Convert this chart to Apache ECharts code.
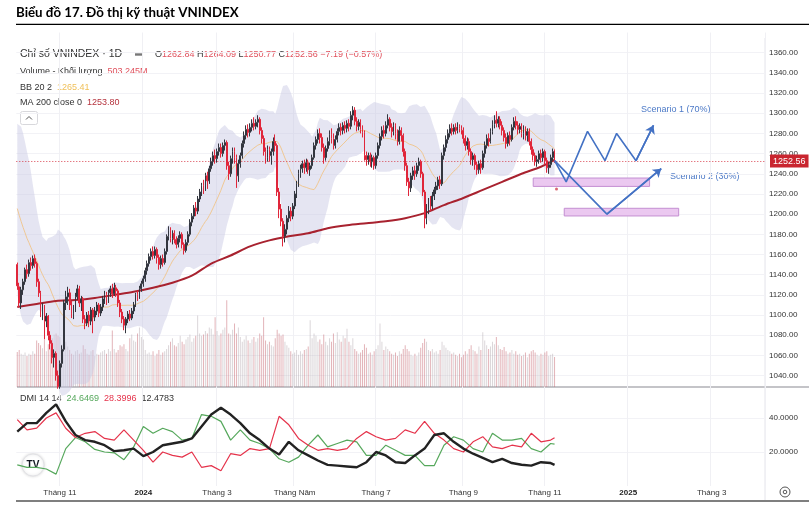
<!DOCTYPE html>
<html>
<head>
<meta charset="utf-8">
<script src="https://cdn.jsdelivr.net/npm/echarts@6/dist/echarts.min.js"></script>
<style>
html,body{margin:0;padding:0;background:#fff;}
#chart{width:809px;height:508px;}
</style>
</head>
<body>
<div id="chart"></div>
<script>
// phiên giao dịch: bắt đầu 2023-10-02, bỏ cuối tuần và ngày nghỉ lễ
var firstDay = [2023, 9, 2];
var holidays = ['2024-01-01','2024-02-08','2024-02-09','2024-02-12','2024-02-13','2024-02-14',
  '2024-04-18','2024-04-29','2024-04-30','2024-05-01','2024-09-02','2024-09-03'];
var totalBars = 386;

var tickDates = ['2023-11-01','2024-01-02','2024-03-01','2024-05-02','2024-07-01','2024-09-04','2024-11-01','2025-01-01','2025-03-03'];
var tickLabels = ['Tháng 11','2024','Tháng 3','Tháng Năm','Tháng 7','Tháng 9','Tháng 11','2025','Tháng 3'];

// giá đóng cửa tháng 9/2023 (chỉ để tính BB 20)
var prevCloses = [1245,1248,1250,1252,1250,1238,1242,1244,1232,1226,1216,1204,1192,1172,1165,1137,1155,1160,1154];

// [open, close, low, high]
var ohlc = [
[1150,1129,1125,1152],[1128,1112,1108,1132],[1112,1125,1106,1128],[1125,1133,1120,1136],[1133,1145,1130,1147],
[1145,1141,1136,1150],[1141,1152,1138,1155],[1152,1149,1144,1157],[1149,1156,1146,1159],[1156,1151,1147,1160],
[1151,1133,1128,1153],[1133,1122,1118,1136],[1122,1104,1098,1124],[1104,1108,1095,1112],[1108,1094,1076,1110],
[1094,1099,1088,1102],[1099,1080,1075,1100],[1080,1072,1066,1084],[1072,1058,1052,1075],[1058,1062,1048,1066],
[1062,1040,1035,1064],[1040,1029,1027,1045],
[1029,1052,1027,1055],[1052,1066,1048,1070],[1066,1112,1064,1115],[1112,1118,1105,1124],[1118,1122,1110,1128],
[1122,1110,1105,1126],[1110,1102,1097,1114],[1102,1106,1096,1110],[1106,1118,1103,1122],[1118,1126,1115,1130],
[1126,1112,1108,1129],[1112,1116,1104,1119],[1116,1096,1092,1118],[1096,1092,1086,1100],[1092,1100,1089,1103],
[1100,1094,1088,1104],[1094,1105,1090,1108],[1105,1098,1082,1107],[1098,1104,1094,1108],[1104,1110,1100,1113],
[1110,1102,1098,1112],[1102,1108,1099,1111],
[1108,1116,1104,1119],[1116,1120,1111,1124],[1120,1114,1110,1123],[1114,1122,1112,1125],[1122,1126,1118,1129],
[1126,1121,1117,1131],[1121,1127,1119,1132],[1127,1124,1118,1130],[1124,1112,1108,1126],[1112,1103,1098,1115],
[1103,1096,1092,1106],[1096,1090,1085,1099],[1090,1096,1082,1098],[1096,1101,1092,1104],[1101,1097,1094,1105],
[1097,1104,1095,1107],[1104,1110,1101,1113],[1110,1120,1108,1122],[1120,1118,1114,1124],[1118,1126,1116,1129],
[1126,1131,1123,1134],
[1131,1136,1128,1139],[1136,1144,1133,1147],[1144,1151,1140,1154],[1151,1158,1148,1161],[1158,1163,1154,1166],
[1163,1159,1155,1168],[1159,1165,1156,1168],[1165,1157,1151,1167],[1157,1150,1145,1160],[1150,1156,1146,1159],
[1156,1152,1148,1160],[1152,1163,1150,1166],[1163,1178,1160,1180],[1178,1184,1174,1188],[1184,1176,1172,1187],
[1176,1181,1170,1184],[1181,1175,1171,1184],[1175,1170,1166,1178],[1170,1176,1167,1179],[1176,1180,1172,1183],
[1180,1170,1166,1182],[1170,1164,1160,1172],
[1164,1172,1162,1175],[1172,1180,1169,1183],[1180,1192,1178,1195],[1192,1198,1188,1201],[1198,1206,1195,1209],
[1206,1203,1198,1212],[1203,1215,1200,1218],[1215,1222,1212,1225],[1222,1228,1218,1231],[1228,1225,1220,1234],
[1225,1238,1223,1241],[1238,1233,1225,1242],[1233,1245,1230,1248],[1245,1252,1242,1256],[1252,1258,1248,1262],
[1258,1255,1250,1264],
[1255,1262,1251,1265],[1262,1266,1258,1270],[1266,1260,1256,1270],[1260,1268,1257,1271],[1268,1271,1263,1274],
[1271,1248,1244,1273],[1248,1240,1234,1252],[1240,1255,1237,1258],[1255,1262,1250,1266],[1262,1256,1250,1266],
[1256,1238,1226,1259],[1238,1250,1232,1254],[1250,1258,1246,1261],[1258,1270,1255,1273],[1270,1278,1266,1282],
[1278,1284,1274,1288],[1284,1281,1276,1289],[1281,1286,1277,1290],[1286,1290,1282,1294],[1290,1287,1283,1296],
[1287,1291,1284,1294],
[1291,1294,1286,1298],[1294,1283,1279,1296],[1283,1275,1270,1286],[1275,1262,1258,1278],[1262,1256,1250,1266],
[1256,1264,1252,1268],[1264,1258,1252,1267],[1258,1262,1249,1265],[1262,1272,1258,1276],[1272,1268,1262,1279],
[1268,1222,1218,1270],[1222,1205,1196,1226],[1205,1193,1188,1210],[1193,1178,1168,1196],[1178,1185,1172,1190],
[1185,1196,1180,1199],[1196,1203,1192,1208],[1203,1198,1193,1207],[1198,1208,1195,1211],
[1208,1220,1205,1223],[1220,1230,1216,1233],[1230,1240,1227,1244],[1240,1245,1236,1249],[1245,1250,1241,1253],
[1250,1246,1240,1254],[1246,1251,1242,1255],[1251,1244,1240,1254],[1244,1248,1238,1251],[1248,1256,1245,1259],
[1256,1268,1254,1271],[1268,1274,1264,1277],[1274,1280,1270,1284],[1280,1276,1270,1285],[1276,1266,1262,1280],
[1266,1256,1250,1270],[1256,1265,1253,1268],[1265,1272,1262,1276],[1272,1279,1268,1283],[1279,1275,1270,1285],
[1275,1268,1264,1280],[1268,1274,1265,1278],
[1274,1282,1271,1285],[1282,1286,1278,1290],[1286,1283,1278,1290],[1283,1288,1279,1291],[1288,1285,1280,1292],
[1285,1290,1281,1293],[1290,1287,1282,1294],[1287,1298,1284,1302],[1298,1303,1293,1307],[1303,1292,1288,1306],
[1292,1287,1282,1296],[1287,1291,1283,1294],[1291,1284,1280,1294],[1284,1281,1276,1288],[1281,1258,1253,1283],
[1258,1254,1248,1262],[1254,1258,1249,1261],[1258,1252,1247,1261],[1252,1256,1246,1259],[1256,1248,1244,1258],
[1248,1258,1245,1261],[1258,1268,1255,1271],[1268,1277,1265,1280],[1277,1283,1273,1287],[1283,1280,1275,1288],
[1280,1288,1277,1292],[1288,1294,1285,1299],[1294,1286,1282,1296],[1286,1282,1276,1290],[1282,1288,1278,1291],
[1288,1280,1274,1290],[1280,1272,1268,1284],[1272,1283,1269,1287],[1283,1278,1272,1286],[1278,1262,1257,1280],
[1262,1248,1243,1265],[1248,1232,1228,1251],[1232,1226,1218,1236],[1226,1238,1222,1241],[1238,1243,1234,1247],
[1243,1240,1234,1248],[1240,1248,1237,1251],[1248,1252,1243,1256],
[1252,1240,1236,1254],[1240,1222,1218,1242],[1222,1196,1186,1224],[1196,1205,1190,1210],[1205,1212,1200,1216],
[1212,1208,1203,1218],[1208,1218,1205,1222],[1218,1224,1214,1227],[1224,1228,1220,1232],[1228,1234,1224,1237],
[1234,1230,1225,1238],[1230,1258,1228,1261],[1258,1266,1254,1269],[1266,1274,1262,1278],[1274,1280,1270,1284],
[1280,1285,1276,1289],[1285,1282,1278,1290],[1282,1286,1279,1289],[1286,1283,1279,1290],[1283,1287,1280,1291],
[1287,1285,1281,1289],[1285,1283,1279,1288],
[1283,1275,1270,1286],[1275,1268,1263,1278],[1268,1272,1264,1276],[1272,1262,1258,1275],[1262,1254,1249,1265],
[1254,1258,1248,1261],[1258,1249,1244,1260],[1249,1244,1239,1252],[1244,1250,1240,1253],[1250,1246,1240,1254],
[1246,1260,1244,1263],[1260,1268,1256,1272],[1268,1275,1265,1279],[1275,1272,1267,1280],[1272,1282,1270,1285],
[1282,1289,1279,1293],[1289,1293,1285,1298],[1293,1290,1286,1302],[1290,1294,1286,1297],
[1294,1288,1284,1297],[1288,1283,1278,1292],[1283,1276,1272,1286],[1276,1270,1265,1280],[1270,1278,1267,1281],
[1278,1274,1268,1282],[1274,1286,1272,1289],[1286,1292,1283,1296],[1292,1288,1284,1297],[1288,1284,1279,1292],
[1284,1287,1280,1290],[1287,1280,1276,1290],[1280,1284,1274,1288],[1284,1278,1273,1287],[1278,1282,1272,1285],
[1282,1272,1268,1285],[1272,1264,1259,1275],[1264,1258,1253,1267],[1258,1252,1248,1261],[1252,1254,1247,1258],
[1254,1260,1250,1263],[1260,1256,1251,1264],[1256,1262,1252,1265],
[1262,1253,1249,1264],[1253,1246,1241,1256],[1246,1249,1240,1252],[1249,1256,1246,1259],[1256,1262,1253,1265],
[1262.84,1252.56,1250.77,1264.09]
];

// khối lượng (triệu cp)
var volume = [
590,620,560,540,580,520,560,540,600,560, 780,740,700,650,800,600,720,760,820,880,
900,860,840,720,800,760,680,620,560,540, 600,620,560,580,700,640,560,540,600,620,
520,560,540,580,600,620,560,640,600,950, 640,580,620,700,680,720,640,600,820,880,
780,760,900,1000,840,800,620,560,580,540, 600,520,560,620,540,580,600,640,700,760,
820,700,680,740,860,760,720,800,840,880, 760,820,860,1200,900,860,880,940,900,1000,
980,880,1170,940,860,900,960,1000,1456,900, 880,960,1065,900,1000,840,760,800,860,780,
740,800,840,760,820,900,860,1170,780,720, 760,700,680,820,960,900,860,880,760,700,
660,600,560,580,620,540,600,560,620,640, 680,1120,820,900,860,760,800,720,880,760,
700,820,760,900,740,920,800,760,860,820, 980,760,700,820,640,600,560,580,620,720,
660,560,580,540,600,640,700,1065,760,620, 680,640,600,560,540,580,520,600,560,640,
700,640,600,540,520,560,520,580,660,740, 810,760,620,600,640,580,600,560,620,760,
700,660,620,600,560,580,540,520,560,500, 540,600,560,640,700,620,600,560,680,620,
920,780,700,640,680,760,720,840,700,640, 620,670,600,560,580,620,560,600,540,560,
520,540,580,500,560,600,620,580,540,520, 560,540,580,600,520,540,560,503.245
];

// MA 200, đọc mỗi 10 phiên (phiên 0,10,...,270 và 277)
var maIdx = [0,10,20,30,40,50,60,70,80,90,100,110,120,130,140,150,160,170,180,190,200,210,220,230,240,250,260,270,277];
var ma200 = [1108,1111,1114,1115,1117,1120,1123,1127,1132,1139,1151,1159,1168,1174,1178,1181,1186,1189,1191,1193,1196,1201,1209,1216,1224,1232,1240,1247,1253.8];

// DMI 14 14, đọc mỗi 5 phiên (0,5,...,275 và 277)
var dmiIdx = [0,5,10,15,20,25,30,35,40,45,50,55,60,65,70,75,80,85,90,95,100,105,110,115,120,125,130,135,140,145,
  150,155,160,165,170,175,180,185,190,195,200,205,210,215,220,225,230,235,240,245,250,255,260,265,270,275,277];
var diPlus = [12.4,11,11,10,7,22,28.5,26,21.5,20, 19.5,15.5,23,35,31,34,32,27,28,42,
  41,38,27,33,27,25,22,16,14,17, 24,30,23,25,27,26,18,18,24,21, 18,18,12,12,24,29,27,22,20,31, 27,27,28,22,20,25,24.6469];
var diMinus = [39,33,34,40,43,34,28.5,31,32,28, 27,33,27,21,14,20,18,17,20,11,
  12,9,19,18,22,21,22,41,36,28, 24,21,22,21,22,28,32,29,27,28, 33,31,38,31,27,22,20,26,29,23, 22,24,23,31,26,27,28.3996];
var adx = [32,37,37,43,48,38,30,27,26,24, 20.5,21,22,17.6,20,24,25,26,28,35,
  42,46,42,37,31,27,22,18.5,26,21, 18,15,12.4,12,11.5,11,14,20,18,14, 13.5,18,22,30,31,26,22,19,16.5,14, 16,13.5,12.5,12,14,13.5,12.4783];

// kịch bản (phiên, giá)
var scenario1 = [[277,1253],[283,1232],[294,1282],[303,1253],[309,1280],[319,1253],[328,1288]];
var scenario2 = [[277,1253],[304,1200],[332,1245]];
var zone1 = [266,326,1227.5,1235.8];
var zone2 = [282,341,1198.2,1205.8];
var lastClose = 1252.56;

// ---- trục thời gian
function fmt(d){ return d.toISOString().slice(0,10); }
var dates = [];
var d = new Date(Date.UTC(firstDay[0], firstDay[1], firstDay[2]));
while (dates.length < ohlc.length) {
  var wd = d.getUTCDay(), s = fmt(d);
  if (wd > 0 && wd < 6 && holidays.indexOf(s) < 0) dates.push(s);
  d.setUTCDate(d.getUTCDate() + 1);
}
while (dates.length < totalBars) {
  var wd2 = d.getUTCDay();
  if (wd2 > 0 && wd2 < 6) dates.push(fmt(d));
  d.setUTCDate(d.getUTCDate() + 1);
}
var tickIdx = tickDates.map(function(t){ return dates.indexOf(t); });
function isTick(i){ return tickIdx.indexOf(i) >= 0; }

// ---- BB 20 2
var closes = prevCloses.concat(ohlc.map(function(r){ return r[1]; }));
var bbMid = [], bbLow = [], bbBand = [];
for (var i = 0; i < ohlc.length; i++) {
  var w = closes.slice(i, i + 20);
  var m = w.reduce(function(a,b){return a+b;},0) / w.length;
  var sd = Math.sqrt(w.reduce(function(a,b){return a+(b-m)*(b-m);},0) / w.length);
  bbMid.push(+m.toFixed(2));
  bbLow.push(+(m - 2*sd).toFixed(2));
  bbBand.push(+(4*sd).toFixed(2));
}

var volData = volume.map(function(v, i){
  var up = ohlc[i][1] >= ohlc[i][0];
  return { value: v, itemStyle: { color: up ? 'rgba(175,165,170,0.45)' : 'rgba(200,105,115,0.5)' } };
});
function pairs(idx, vals){ return idx.map(function(x, k){ return [x, vals[k]]; }); }

var FONT = 'Liberation Sans, Arial, sans-serif';
var gridL = 16.3, gridR = 44;

function xAx(gi, showLabel){
  return {
    type: 'category', gridIndex: gi, data: dates, boundaryGap: true,
    axisLine: { show: false },
    axisTick: { show: false, alignWithLabel: true, interval: isTick },
    splitLine: { show: gi !== 1, interval: isTick, lineStyle: { color: '#f0f0f4', width: 1 } },
    axisLabel: {
      show: showLabel, interval: isTick, margin: 3, fontSize: 8, color: '#333', fontFamily: FONT,
      formatter: function(v, i){
        var t = tickLabels[tickIdx.indexOf(i)] || '';
        return /^\d{4}$/.test(t) ? '{b|' + t + '}' : t;
      },
      rich: { b: { fontWeight: 'bold', fontSize: 8, color: '#222', fontFamily: FONT } }
    }
  };
}

var chart = echarts.init(document.getElementById('chart'));
chart.setOption({
  animation: false,
  backgroundColor: '#fff',
  grid: [
    { left: gridL, right: gridR, top: 32.5, bottom: 112.2 },
    { left: gridL, right: gridR, top: 287, bottom: 121 },
    { left: gridL, right: gridR, top: 384, bottom: 22 }
  ],
  xAxis: [xAx(0, false), xAx(1, false), xAx(2, true)],
  yAxis: [
    { type: 'value', gridIndex: 0, position: 'right', min: 1020, max: 1380, interval: 20,
      axisLine: { show: false }, axisTick: { show: false },
      axisLabel: { fontSize: 8, color: '#333', margin: 4, fontFamily: FONT, showMinLabel: false, showMaxLabel: false,
        formatter: function(v){ return v.toFixed(2); } },
      splitLine: { lineStyle: { color: '#f2f2f6' }, showMinLine: false, showMaxLine: false } },
    { type: 'value', gridIndex: 1, min: 0, max: 1680, show: false },
    { type: 'value', gridIndex: 2, position: 'right', min: 0, max: 60, interval: 20,
      axisLine: { show: false }, axisTick: { show: false },
      axisLabel: { fontSize: 8, color: '#333', margin: 4, fontFamily: FONT, showMinLabel: false, showMaxLabel: false,
        formatter: function(v){ return v.toFixed(4); } },
      splitLine: { lineStyle: { color: '#f2f2f6' }, showMinLine: false, showMaxLine: false } }
  ],
  series: [
    { name: 'Volume', type: 'bar', xAxisIndex: 1, yAxisIndex: 1, data: volData, barWidth: 1, z: 1 },
    { name: 'bbLow', type: 'line', data: bbLow, stack: 'bb', symbol: 'none', lineStyle: { width: 0 }, z: 2 },
    { name: 'bbBand', type: 'line', data: bbBand, stack: 'bb', symbol: 'none', lineStyle: { width: 0 },
      areaStyle: { color: 'rgba(200,200,228,0.68)' }, z: 2 },
    { name: 'BB basis', type: 'line', data: bbMid, symbol: 'none', lineStyle: { color: '#f0c894', width: 1 }, z: 3 },
    { name: 'MA 200', type: 'line', data: pairs(maIdx, ma200), symbol: 'none', smooth: 0.3,
      lineStyle: { color: '#a8222f', width: 2 }, z: 4 },
    { name: 'VNINDEX', type: 'candlestick', data: ohlc, barWidth: '68%', z: 5,
      itemStyle: { color: '#ffffff', color0: '#e0263a', borderColor: '#33363f', borderColor0: '#e0263a', borderWidth: 1 },
      markLine: { silent: true, symbol: 'none', data: [{ yAxis: lastClose }],
        lineStyle: { color: '#d9404e', width: 1, type: [1, 2] },
        label: { position: 'end', distance: 5, formatter: lastClose.toFixed(2), color: '#fff', backgroundColor: '#c9252f',
          padding: [2, 3], fontSize: 9, fontFamily: FONT } } },
    { name: 'Scenario 1', type: 'line', data: scenario1, symbol: 'none', lineStyle: { color: '#4472c4', width: 1.6 }, z: 7,
      markLine: { silent: true, symbol: ['none', 'arrow'], symbolSize: 8,
        data: [[{ coord: scenario1[scenario1.length - 2] }, { coord: scenario1[scenario1.length - 1] }]],
        lineStyle: { color: '#4472c4', width: 1.6, type: 'solid' }, label: { show: false } },
      markArea: { silent: true, itemStyle: { color: '#ebc8f0', borderColor: '#c48fd2', borderWidth: 1 },
        data: [[{ coord: [zone1[0], zone1[3]] }, { coord: [zone1[1], zone1[2]] }]] } },
    { name: 'Scenario 2', type: 'line', data: scenario2, symbol: 'none', lineStyle: { color: '#4472c4', width: 1.6 }, z: 7,
      markLine: { silent: true, symbol: ['none', 'arrow'], symbolSize: 8,
        data: [[{ coord: scenario2[scenario2.length - 2] }, { coord: scenario2[scenario2.length - 1] }]],
        lineStyle: { color: '#4472c4', width: 1.6, type: 'solid' }, label: { show: false } },
      markArea: { silent: true, itemStyle: { color: '#ebc8f0', borderColor: '#c48fd2', borderWidth: 1 },
        data: [[{ coord: [zone2[0], zone2[3]] }, { coord: [zone2[1], zone2[2]] }]] } },
    { name: 'dot', type: 'scatter', data: [[278, 1225]], symbolSize: 3, itemStyle: { color: '#d04050' }, z: 6 },
    { name: '+DI', type: 'line', xAxisIndex: 2, yAxisIndex: 2, data: pairs(dmiIdx, diPlus), symbol: 'none',
      lineStyle: { color: '#56a85c', width: 1.2 } },
    { name: '-DI', type: 'line', xAxisIndex: 2, yAxisIndex: 2, data: pairs(dmiIdx, diMinus), symbol: 'none',
      lineStyle: { color: '#e5334b', width: 1.2 } },
    { name: 'ADX', type: 'line', xAxisIndex: 2, yAxisIndex: 2, data: pairs(dmiIdx, adx), symbol: 'none',
      lineStyle: { color: '#222', width: 2.4 } }
  ],
  graphic: [
    { type: 'text', x: 16, y: 12.5, style: { text: 'Biểu đồ 17. Đồ thị kỹ thuật VNINDEX', fill: '#000',
      fontFamily: 'Lato, sans-serif', fontWeight: 'bold', fontSize: 13.3, verticalAlign: 'middle' } },
    { type: 'line', shape: { x1: 16, y1: 24.3, x2: 809, y2: 24.3 }, style: { stroke: '#000', lineWidth: 1.2 } },
    { type: 'line', shape: { x1: 16, y1: 501, x2: 809, y2: 501 }, style: { stroke: '#000', lineWidth: 1.2 } },
    { type: 'line', shape: { x1: 17, y1: 387, x2: 809, y2: 387 }, style: { stroke: '#c4c4c8', lineWidth: 2 } },
    { type: 'line', shape: { x1: 765, y1: 38, x2: 765, y2: 500 }, style: { stroke: '#e4e4ea', lineWidth: 1 } },
    { type: 'text', x: 20, y: 54.5, style: { text: 'Chỉ số VNINDEX · 1D', fill: '#333', fontFamily: FONT, fontSize: 10.5, verticalAlign: 'middle' } },
    { type: 'rect', shape: { x: 135, y: 53.3, width: 7, height: 2.4 }, style: { fill: '#777' } },
    { type: 'text', x: 155, y: 54.5, style: {
      text: '{l|O}{v|1262.84} {l|H}{v|1264.09} {l|L}{v|1250.77} {l|C}{v|1252.56} {v|−7.19 (−0.57%)}',
      verticalAlign: 'middle', fontFamily: FONT, fontSize: 9,
      rich: { l: { fill: '#333', color: '#333', fontSize: 9, fontFamily: FONT }, v: { fill: '#e0505c', color: '#e0505c', fontSize: 9, fontFamily: FONT } } } },
    { type: 'text', x: 20, y: 71.5, style: { text: '{l|Volume - Khối lượng}  {v|503.245M}', verticalAlign: 'middle', fontFamily: FONT, fontSize: 9,
      rich: { l: { fill: '#333', color: '#333', fontSize: 9, fontFamily: FONT }, v: { fill: '#e0505c', color: '#e0505c', fontSize: 9, fontFamily: FONT } } } },
    { type: 'text', x: 20, y: 87.5, style: { text: '{l|BB 20 2}  {v|1265.41}', verticalAlign: 'middle', fontFamily: FONT, fontSize: 9,
      rich: { l: { fill: '#333', color: '#333', fontSize: 9, fontFamily: FONT }, v: { fill: '#f0c05a', color: '#f0c05a', fontSize: 9, fontFamily: FONT } } } },
    { type: 'text', x: 20, y: 103, style: { text: '{l|MA 200 close 0}  {v|1253.80}', verticalAlign: 'middle', fontFamily: FONT, fontSize: 9,
      rich: { l: { fill: '#333', color: '#333', fontSize: 9, fontFamily: FONT }, v: { fill: '#b5323d', color: '#b5323d', fontSize: 9, fontFamily: FONT } } } },
    { type: 'rect', shape: { x: 20.5, y: 111.5, width: 17, height: 13, r: 2 }, style: { fill: '#fff', stroke: '#d8d8dc', lineWidth: 1 } },
    { type: 'polyline', shape: { points: [[26, 119.5], [29, 116.5], [32, 119.5]] }, style: { stroke: '#555', lineWidth: 1, fill: null } },
    { type: 'text', x: 20, y: 398.5, style: { text: '{l|DMI 14 14}  {g|24.6469}  {r|28.3996}  {k|12.4783}', verticalAlign: 'middle', fontFamily: FONT, fontSize: 9,
      rich: { l: { fill: '#333', color: '#333', fontSize: 9, fontFamily: FONT }, g: { fill: '#56a85c', color: '#56a85c', fontSize: 9, fontFamily: FONT },
        r: { fill: '#e5334b', color: '#e5334b', fontSize: 9, fontFamily: FONT }, k: { fill: '#333', color: '#333', fontSize: 9, fontFamily: FONT } } } },
    { type: 'circle', shape: { cx: 33, cy: 465, r: 11 }, style: { fill: '#fff', stroke: '#e2e2e6', lineWidth: 1, shadowBlur: 3, shadowColor: 'rgba(0,0,0,0.15)' } },
    { type: 'text', x: 33, y: 465.5, style: { text: 'TV', fill: '#131722', fontFamily: FONT, fontWeight: 'bold', fontSize: 10, align: 'center', verticalAlign: 'middle' } },
    { type: 'circle', shape: { cx: 785, cy: 492, r: 5 }, style: { fill: 'none', stroke: '#555', lineWidth: 1 } },
    { type: 'circle', shape: { cx: 785, cy: 492, r: 1.8 }, style: { fill: 'none', stroke: '#555', lineWidth: 1 } },
    { type: 'text', x: 641, y: 110, style: { text: 'Scenario 1 (70%)', fill: '#4d7ac7', fontFamily: FONT, fontSize: 9, verticalAlign: 'middle' } },
    { type: 'text', x: 670, y: 177, style: { text: 'Scenario 2 (30%)', fill: '#4d7ac7', fontFamily: FONT, fontSize: 9, verticalAlign: 'middle' } }
  ]
});
</script>
</body>
</html>
